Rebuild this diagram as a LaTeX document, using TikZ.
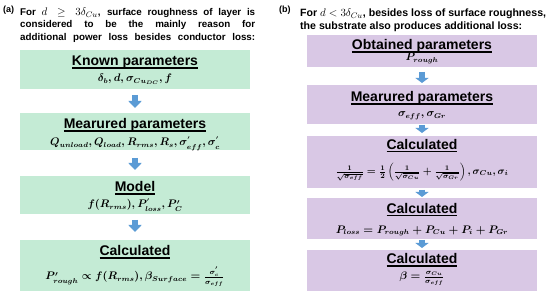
\documentclass[tikz,border=0pt]{standalone}
\usepackage{amsmath,amssymb}
\usepackage[no-math]{fontspec}
\setmainfont{Liberation Sans}
\usetikzlibrary{arrows.meta}
\definecolor{gboxc}{HTML}{C4EBD5}
\definecolor{pboxc}{HTML}{D9C8E5}
\definecolor{arrc}{HTML}{5B9BD5}
\newcommand{\hdul}[1]{\setbox0\hbox{#1}\rlap{\rule[-2.6pt]{\wd0}{1.1pt}}\box0}
\newcommand{\tmath}[1]{{\fontsize{11}{12}\selectfont$#1$}}
\begin{document}
\begin{tikzpicture}[x=1pt,y=-1pt,
  box/.style={minimum width=230pt, inner sep=0pt, outer sep=0pt},
  gbox/.style={box, fill=gboxc},
  pbox/.style={box, fill=pboxc},
  hd/.style={anchor=base, inner sep=0pt, font=\fontsize{14}{16}\selectfont\bfseries},
  mth/.style={anchor=base, inner sep=0pt, font=\fontsize{10.6}{13}\selectfont\boldmath},
  mths/.style={anchor=base, inner sep=0pt, font=\fontsize{10}{12}\selectfont\boldmath},
  blkL/.style={arrc, line width=6pt, -{Triangle[length=7pt,width=13pt]}},
  blkR/.style={arrc, line width=6pt, -{Triangle[length=5pt,width=13pt]}},
  lttl/.style={anchor=base west, inner sep=0pt, font=\fontsize{9.8}{12}\selectfont\bfseries},
  rttl/.style={anchor=base west, inner sep=0pt, font=\fontsize{10.6}{12}\selectfont\bfseries},
  lab/.style={anchor=base west, inner sep=0pt, font=\fontsize{9}{11}\selectfont\bfseries},
]
\useasboundingbox (0,0) rectangle (550,296);
% ---------- panel (a)
\node[lab] (la) at (3,12.5) {(a)};
\node[lttl] (t1) at (20,15.7) {\makebox[235pt][s]{For \tmath{d \geq 3\delta_{Cu}}, surface roughness of layer is}};
\node[lttl] (t2) at (20,28) {\makebox[235pt][s]{considered to be the mainly reason for}};
\node[lttl] (t3) at (20,40.3) {\makebox[235pt][s]{additional power loss besides conductor loss:}};

\node[gbox, minimum height=39pt] (a1) at (135,69.5) {};
\node[gbox, minimum height=37pt] (a2) at (135,131.5) {};
\node[gbox, minimum height=38pt] (a3) at (135,195) {};
\node[gbox, minimum height=51pt] (a4) at (135,265.5) {};

\node[hd] (a1h) at (135,66) {\hdul{Known parameters}};
\node[mth] (a1m) at (135,82) {$\delta_b, d,\sigma_{Cu_{DC}}, f$};
\node[hd] (a2h) at (135,129) {\hdul{Mearured parameters}};
\node[mth] (a2m) at (135,146) {$Q_{unload}, Q_{load}, R_{rms}, R_s, \sigma^{'}_{eff}, \sigma^{'}_{c}$};
\node[hd] (a3h) at (135,192) {\hdul{Model}};
\node[mth] (a3m) at (135,208) {$f(R_{rms}), P^{'}_{loss}, P'_C$};
\node[hd] (a4h) at (135,256) {\hdul{Calculated}};
\node[mth] (a4m) at (135,280) {$P'_{rough} \propto f(R_{rms}), \beta_{Surface} = \frac{\sigma^{'}_{c}}{\sigma_{eff}}$};

\draw[blkL] ([yshift=-6pt]a1.south) -- ([yshift=5pt]a2.north);
\draw[blkL] ([yshift=-8pt]a2.south) -- ([yshift=6pt]a3.north);
\draw[blkL] ([yshift=-6pt]a3.south) -- ([yshift=8pt]a4.north);

% ---------- panel (b)
\node[lab] (lb) at (279,12.5) {(b)};
\node[rttl] (u1) at (300,17) {For \tmath{d < 3\delta_{Cu}}, besides loss of surface roughness,};
\node[rttl] (u2) at (300,29.5) {the substrate also produces additional loss:};

\node[pbox, minimum height=32pt] (b1) at (422,51) {};
\node[pbox, minimum height=39pt] (b2) at (422,104.5) {};
\node[pbox, minimum height=52pt] (b3) at (422,162) {};
\node[pbox, minimum height=41pt] (b4) at (422,218.5) {};
\node[pbox, minimum height=41pt] (b5) at (422,270.5) {};

\node[hd] (b1h) at (422,50) {\hdul{Obtained parameters}};
\node[mth] (b1m) at (422,61) {$P_{rough}$};
\node[hd] (b2h) at (422,102) {\hdul{Mearured parameters}};
\node[mth] (b2m) at (422,117) {$\sigma_{eff}, \sigma_{Gr}$};
\node[hd] (b3h) at (422,149.5) {\hdul{Calculated}};
\node[mths] (b3m) at (422,174.5) {$\frac{1}{\sqrt{\sigma_{eff}}} = \frac{1}{2}\left(\frac{1}{\sqrt{\sigma_{Cu}}}+\frac{1}{\sqrt{\sigma_{Gr}}}\right), \sigma_{Cu}, \sigma_i$};
\node[hd] (b4h) at (422,213.3) {\hdul{Calculated}};
\node[mth] (b4m) at (422,233.3) {$P_{loss} = P_{rough} + P_{Cu} + P_i + P_{Gr}$};
\node[hd] (b5h) at (422,264) {\hdul{Calculated}};
\node[mth] (b5m) at (422,279.5) {$\beta = \frac{\sigma_{Cu}}{\sigma_{eff}}$};

\draw[blkR] ([yshift=-5pt]b1.south) -- ([yshift=2pt]b2.north);
\draw[blkR] ([yshift=-1pt]b2.south) -- ([yshift=3pt]b3.north);
\draw[blkR] ([yshift=-2pt]b3.south) -- ([yshift=1pt]b4.north);
\draw[blkR] ([yshift=-1pt]b4.south) -- ([yshift=2pt]b5.north);
\end{tikzpicture}
\end{document}
